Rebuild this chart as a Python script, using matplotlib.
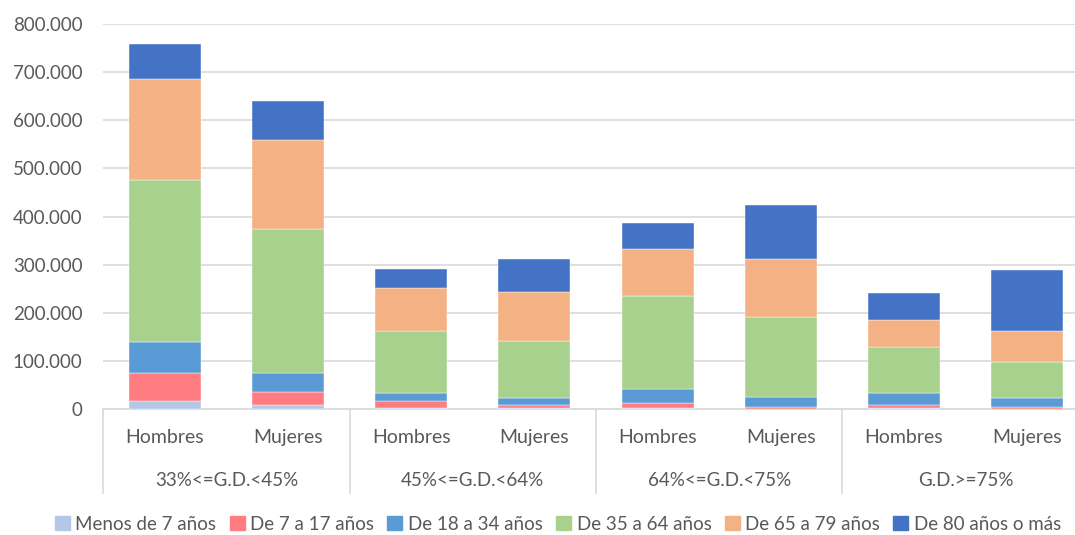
import matplotlib
matplotlib.use("Agg")
import matplotlib.pyplot as plt
from matplotlib.lines import Line2D
from matplotlib.ticker import FuncFormatter
import numpy as np

plt.rcParams['font.family'] = ['Lato', 'DejaVu Sans']

sexes = ["Hombres", "Mujeres", "Hombres", "Mujeres", "Hombres", "Mujeres", "Hombres", "Mujeres"]
groups = ["33%<=G.D.<45%", "45%<=G.D.<64%", "64%<=G.D.<75%", "G.D.>=75%"]
series_names = ["Menos de 7 años", "De 7 a 17 años", "De 18 a 34 años",
                "De 35 a 64 años", "De 65 a 79 años", "De 80 años o más"]

menos_7 = [16000, 9000, 2000, 1500, 2000, 1000, 2000, 1000]
de_7_17 = [59500, 25700, 14000, 6000, 10000, 3000, 5700, 2500]
de_18_34 = [63000, 40800, 18000, 14500, 29000, 21600, 26300, 18500]
de_35_64 = [337000, 298500, 127500, 120000, 194600, 165000, 94300, 75700]
de_65_79 = [210000, 184600, 89500, 101000, 97000, 120500, 56000, 63800]
de_80 = [72000, 81400, 40700, 68000, 53400, 112500, 56000, 127500]

series = [menos_7, de_7_17, de_18_34, de_35_64, de_65_79, de_80]
colors = ["#B4C7E7", "#FF7C80", "#5B9BD5", "#A9D18E", "#F4B183", "#4472C4"]

W, H = 1075, 535
fig = plt.figure(figsize=(W / 100, H / 100), dpi=100)
left, right, top, bottom = 103.4, 1088.6, 24, 409
ax = fig.add_axes([left / W, 1 - bottom / H, (right - left) / W, (bottom - top) / H])

x = np.arange(len(sexes))
base = np.zeros(len(sexes))
for vals, col, name in zip(series, colors, series_names):
    ax.bar(x, vals, width=0.585, bottom=base, color=col, label=name,
           edgecolor='white', linewidth=0.3, zorder=3)
    base += np.array(vals)

ax.set_xlim(-0.5, len(sexes) - 0.5)
ax.set_ylim(0, 800000)
ax.set_yticks(np.arange(0, 800001, 100000))
ax.yaxis.set_major_formatter(FuncFormatter(lambda v, p: f"{int(v):,}".replace(",", ".")))
ax.grid(axis='y', color='#D9D9D9', linewidth=1.2, zorder=0)
for s in ['top', 'right', 'left']:
    ax.spines[s].set_visible(False)
ax.spines['bottom'].set_color('#D9D9D9')
ax.spines['bottom'].set_linewidth(1.2)
ax.tick_params(axis='y', length=0, labelsize=13.5, labelcolor='#595959', pad=15)
ax.tick_params(axis='x', length=0, labelbottom=False)

trans = ax.get_xaxis_transform()
axh = bottom - top
y_row1 = -(437.7 - bottom) / axh
y_row2 = -(480 - bottom) / axh
y_line = -(492.5 - bottom) / axh
for xi, s in zip(x, sexes):
    ax.text(xi, y_row1, s, transform=trans, ha='center', va='center',
            fontsize=14, color='#595959')
for gi, g in enumerate(groups):
    ax.text(2 * gi + 0.5, y_row2, g, transform=trans, ha='center', va='center',
            fontsize=13.5, color='#595959')
for xb in np.arange(-0.5, len(sexes), 2):
    ax.add_line(Line2D([xb, xb], [0, y_line], transform=trans, color='#D9D9D9',
                       linewidth=1.2, clip_on=False))

handles = [plt.Rectangle((0, 0), 1, 1, color=c) for c in colors]
fig.legend(handles, series_names, loc='center', bbox_to_anchor=(0.519, 1 - 524 / H),
           ncol=6, frameon=False, fontsize=13.5, handlelength=0.8, handleheight=0.8,
           handletextpad=0.3, columnspacing=0.7, labelcolor='#595959')

fig.savefig("out.png", dpi=100)
